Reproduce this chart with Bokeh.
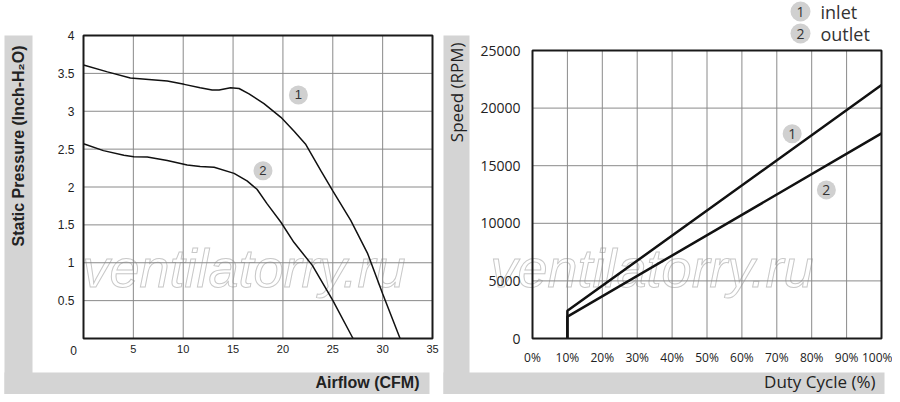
import math
from bokeh.plotting import figure
from bokeh.layouts import row
from bokeh.models import BoxAnnotation, Label, FixedTicker, Range1d, LinearAxis
from bokeh.core.properties import value
from bokeh.embed import file_html
from bokeh.resources import INLINE

# ---------------- data: left chart (static pressure vs airflow) ----------------
airflow_inlet = [0, 2.4, 4.7, 8.4, 10.1, 11.7, 12.9, 13.6, 14.75, 15.6, 16.6, 18.1,
                 19.8, 21.1, 22.1, 22.3, 23.8, 25.0, 26.8, 28.5, 30.0, 31.75]
pressure_inlet = [3.61, 3.52, 3.44, 3.40, 3.355, 3.31, 3.28, 3.28, 3.31, 3.30, 3.23, 3.10,
                  2.92, 2.74, 2.59, 2.56, 2.215, 1.95, 1.56, 1.12, 0.59, 0.0]
airflow_outlet = [0, 2.0, 4.05, 5.05, 6.4, 8.4, 10.4, 11.7, 13.1, 15.1, 16.4, 17.4,
                  18.4, 19.8, 21.1, 22.95, 25.0, 27.03]
pressure_outlet = [2.57, 2.48, 2.42, 2.40, 2.395, 2.35, 2.29, 2.27, 2.26, 2.18, 2.08, 1.97,
                   1.78, 1.535, 1.27, 0.965, 0.504, 0.0]
left_badge_x = [21.55, 18.0]
left_badge_y = [3.215, 2.215]
badge_text = ["1", "2"]
left_x_ticks = [5, 10, 15, 20, 25, 30, 35]
left_y_ticks = [0.5, 1, 1.5, 2, 2.5, 3, 3.5, 4]
left_x_range = (0, 35)
left_y_range = (0, 4)

# ---------------- data: right chart (speed vs duty cycle) ----------------
duty = [10, 10, 100]
speed_inlet = [0, 2400, 22000]
speed_outlet = [0, 1900, 17800]
right_badge_x = [74.4, 84.2]
right_badge_y = [17775, 12900]
right_x_ticks = [0, 10, 20, 30, 40, 50, 60, 70, 80, 90, 100]
right_x_labels = ["0%", "10%", "20%", "30%", "40%", "50%", "60%", "70%", "80%", "90%", "100%"]
right_y_ticks = [0, 5000, 10000, 15000, 20000, 25000]
right_x_range = (0, 100)
right_y_range = (0, 25000)
legend_names = ["inlet", "outlet"]

GRAY = "#d4d4d4"
GRID = "#8a8a8a"
DARK = "#222222"
BADGE = "#d0d0d0"
H = 394  # canvas height


class Panel:
    """Maps canvas pixels (local x from left, y from top) of a figure whose
    frame fills the whole canvas to data coordinates."""
    def __init__(self, width, px_left, px_right, px_top, px_bottom, xr, yr):
        self.kx = (px_right - px_left) / (xr[1] - xr[0])
        self.ky = (px_bottom - px_top) / (yr[1] - yr[0])
        self.x0 = xr[0] - px_left / self.kx
        self.x1 = xr[1] + (width - px_right) / self.kx
        self.y0 = yr[0] - (H - px_bottom) / self.ky
        self.y1 = yr[1] + px_top / self.ky

    def dx(self, px):
        return self.x0 + px / self.kx

    def dy(self, py):
        return self.y0 + (H - py) / self.ky


def make_fig(width, m):
    p = figure(width=width, height=H, x_range=Range1d(m.x0, m.x1), y_range=Range1d(m.y0, m.y1),
               output_backend="svg", toolbar_location=None, x_axis_type=None, y_axis_type=None,
               min_border=0, min_border_left=0, min_border_right=0, min_border_top=0,
               min_border_bottom=0, outline_line_color=None,
               background_fill_color="white", border_fill_color="white")
    p.xgrid.visible = False
    p.ygrid.visible = False
    return p


def add_axes(p, xticks, yticks, xr, yr, font, xsize, ysize, xstand, ystand, overrides=None):
    xa = LinearAxis(fixed_location=yr[0], ticker=FixedTicker(ticks=xticks))
    ya = LinearAxis(fixed_location=xr[0], ticker=FixedTicker(ticks=yticks))
    for ax in (xa, ya):
        ax.axis_line_color = None
        ax.major_tick_line_color = None
        ax.minor_tick_line_color = None
        ax.major_tick_out = 0
        ax.major_tick_in = 0
        ax.major_label_text_font = font
        ax.major_label_text_color = DARK
    xa.major_label_text_font_size = xsize
    ya.major_label_text_font_size = ysize
    xa.major_label_standoff = xstand
    ya.major_label_standoff = ystand
    if overrides:
        xa.major_label_overrides = overrides
    p.add_layout(xa, "below")
    p.add_layout(ya, "left")
    # grid lines (inside the plot area only)
    gx = [t for t in xticks if xr[0] < t < xr[1]]
    gy = [t for t in yticks if yr[0] < t < yr[1]]
    p.segment(x0=gx, y0=[yr[0]] * len(gx), x1=gx, y1=[yr[1]] * len(gx),
              line_color=GRID, line_width=1)
    p.segment(x0=[xr[0]] * len(gy), y0=gy, x1=[xr[1]] * len(gy), y1=gy,
              line_color=GRID, line_width=1)
    # plot-area border
    p.add_layout(BoxAnnotation(left=xr[0], right=xr[1], bottom=yr[0], top=yr[1],
                               fill_color=None, line_color="#1a1a1a", line_width=2,
                               line_alpha=1, level="annotation"))


def band(p, m, l, r, t, b):
    p.add_layout(BoxAnnotation(left=m.dx(l), right=m.dx(r), top=m.dy(t), bottom=m.dy(b),
                               fill_color=GRAY, fill_alpha=1, line_color=None,
                               level="image"))


def label(p, x, y, text, **kw):
    p.add_layout(Label(x=x, y=H - y, x_units="screen", y_units="screen", text=text, **kw))


# ---------------- left figure (canvas x 0..440) ----------------
W1 = 440
m1 = Panel(W1, 83, 432, 35, 338, left_x_range, left_y_range)
p1 = make_fig(W1, m1)
band(p1, m1, 4, 32, 35, 398)
band(p1, m1, 4, 429, 372, 398)
label(p1, 82, 297, "ventilatorry.ru", text_font="Liberation Sans", text_font_style="italic",
      text_font_size="54px", text_color="white", text_outline_color="#c8c8c8",
      level="underlay")
add_axes(p1, left_x_ticks, left_y_ticks, left_x_range, left_y_range,
         "Liberation Sans", "11px", "12px", 6, 9)

p1.line(airflow_inlet, pressure_inlet, line_color="#111111", line_width=1.5)
p1.line(airflow_outlet, pressure_outlet, line_color="#111111", line_width=1.5)
p1.scatter(left_badge_x, left_badge_y, size=19, fill_color=BADGE, line_color=None)
p1.text(left_badge_x, left_badge_y, text=badge_text, text_align="center", text_baseline="middle",
        text_font=value("Liberation Sans"), text_font_size="13px", text_color="#333333")

label(p1, 18, 45, "Static Pressure (Inch-H\u2082O)", angle=math.pi / 2,
      text_align="right", text_baseline="middle", text_font="Liberation Sans",
      text_font_style="bold", text_font_size="16px", text_color=DARK)
label(p1, 419, 382, "Airflow (CFM)", text_align="right", text_baseline="middle",
      text_font="Liberation Sans", text_font_style="bold", text_font_size="16px",
      text_color=DARK)
label(p1, 73, 350, "0", text_align="center", text_baseline="middle",
      text_font="Liberation Sans", text_font_size="12px", text_color=DARK)

# ---------------- right figure (canvas x 440..892) ----------------
W2 = 452
m2 = Panel(W2, 92, 441, 50, 338, right_x_range, right_y_range)
p2 = make_fig(W2, m2)
band(p2, m2, 3, 29, 35, 400)
band(p2, m2, 3, 444, 372, 400)
label(p2, 50, 297, "ventilatorry.ru", text_font="Liberation Sans", text_font_style="italic",
      text_font_size="54px", text_color="white", text_outline_color="#c8c8c8",
      level="underlay")
add_axes(p2, right_x_ticks, right_y_ticks, right_x_range, right_y_range,
         "Open Sans", "12px", "14px", 10, 12,
         overrides={t: s for t, s in zip(right_x_ticks, right_x_labels)})

p2.line(duty, speed_inlet, line_color="#111111", line_width=2.5)
p2.line(duty, speed_outlet, line_color="#111111", line_width=2.5)
p2.scatter(right_badge_x, right_badge_y, size=19, fill_color=BADGE, line_color=None)
p2.text(right_badge_x, right_badge_y, text=badge_text, text_align="center", text_baseline="middle",
        text_font=value("Open Sans"), text_font_size="14px", text_color="#333333")

label(p2, 15.5, 42, "Speed (RPM)", angle=math.pi / 2, text_align="right",
      text_baseline="middle", text_font="Open Sans", text_font_size="17px", text_color=DARK)
label(p2, 435, 381, "Duty Cycle (%)", text_align="right", text_baseline="middle",
      text_font="Open Sans", text_font_size="17px", text_color=DARK)

# legend (above the plot area)
for i, name in enumerate(legend_names):
    cy = 11 + 22 * i
    p2.add_layout(BoxAnnotation(left=m2.dx(350), right=m2.dx(370), top=m2.dy(cy - 10),
                                bottom=m2.dy(cy + 10), fill_color=BADGE, fill_alpha=1,
                                line_color=None, border_radius=10, level="annotation"))
    label(p2, 360, cy, badge_text[i], text_align="center", text_baseline="middle",
          text_font="Open Sans", text_font_size="14px", text_color="#333333")
    label(p2, 380, cy, name, text_align="left", text_baseline="middle",
          text_font="Open Sans", text_font_size="18px", text_color="#333333")

layout = row(p1, p2)
open("out.html", "w").write(file_html(layout, INLINE))
